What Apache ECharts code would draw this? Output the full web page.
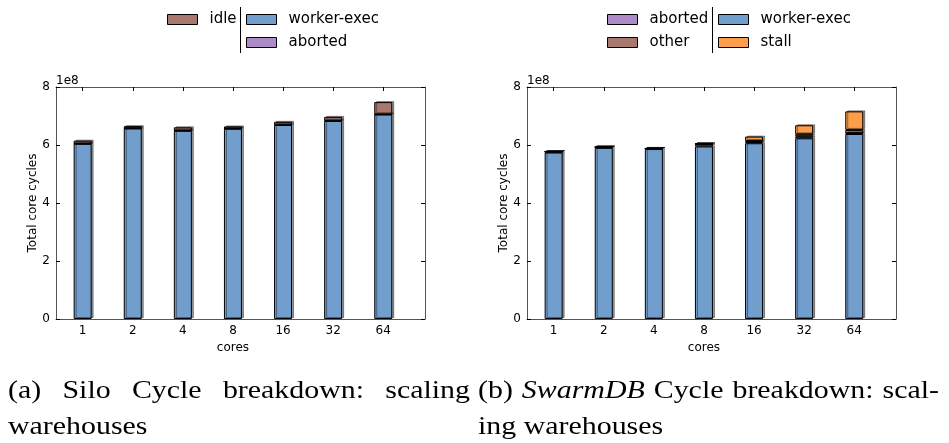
<!DOCTYPE html>
<html>
<head>
<meta charset="utf-8">
<title>Cycle breakdown: scaling warehouses</title>
<script src="https://cdn.jsdelivr.net/npm/echarts@6/dist/echarts.min.js"></script>
<style>
  html, body { margin: 0; padding: 0; background: #fff; }
  #chart { width: 949px; height: 443px; }
</style>
</head>
<body>
<div id="chart"></div>
<script>
// Core counts on the x axis
const cores = ['1', '2', '4', '8', '16', '32', '64'];

// y tick labels (units of 1e8 cycles)
const yTicks = [0, 2, 4, 6, 8];

// Silo: total core cycles per component, in units of 1e8
const siloWorkerExec = [6.04, 6.57, 6.49, 6.56, 6.69, 6.83, 7.05];
const siloAborted    = [0.01, 0.01, 0.01, 0.01, 0.01, 0.01, 0.01];
const siloIdle       = [0.10, 0.07, 0.11, 0.07, 0.10, 0.13, 0.42];

// SwarmDB: total core cycles per component, in units of 1e8
const swarmWorkerExec = [5.74, 5.90, 5.86, 5.95, 6.06, 6.23, 6.38];
const swarmOther      = [0.03, 0.03, 0.02, 0.08, 0.04, 0.07, 0.03];
const swarmAborted    = [0.00, 0.00, 0.00, 0.01, 0.04, 0.07, 0.11];
const swarmStall      = [0.00, 0.00, 0.00, 0.01, 0.15, 0.31, 0.64];

const COLORS = {
  'worker-exec': '#729ECE',
  'aborted': '#AD8BC9',
  'idle': '#A8786E',
  'other': '#A8786E',
  'stall': '#FF9E4A'
};

const SANS = '"DejaVu Sans", sans-serif';
const SERIF_FAMILY = '"Liberation Serif", serif';
const FRAME = '#555';

const chart = echarts.init(document.getElementById('chart'), null, { renderer: 'canvas' });

// Each panel: an outer frame grid (box, y ticks and labels) and an inner
// grid holding the category bands the bars sit in.
const panels = [
  { frameLeft: 56, barLeft: 57.6 },
  { frameLeft: 527, barLeft: 528.6 }
];
const TOP = 87, HEIGHT = 232, FRAME_W = 369, BAR_W = 350.7;

const grids = [], xAxes = [], yAxes = [];
const barAxis = [];

panels.forEach((p, k) => {
  const frameGrid = grids.length;
  grids.push({ left: p.frameLeft, top: TOP, width: FRAME_W, height: HEIGHT });
  const barGrid = grids.length;
  grids.push({ left: p.barLeft, top: TOP, width: BAR_W, height: HEIGHT });

  const line = { show: true, onZero: false, lineStyle: { color: FRAME, width: 1 } };

  // frame: bottom and top edges
  xAxes.push({ type: 'value', gridIndex: frameGrid, position: 'bottom', min: 0, max: 1,
    axisLine: line, axisTick: { show: false }, axisLabel: { show: false }, splitLine: { show: false } });
  xAxes.push({ type: 'value', gridIndex: frameGrid, position: 'top', min: 0, max: 1,
    axisLine: line, axisTick: { show: false }, axisLabel: { show: false }, splitLine: { show: false } });

  // frame: left (labelled) and right edges
  const yCommon = { type: 'value', gridIndex: frameGrid, min: 0, max: 8, interval: 2,
    axisLine: line, splitLine: { show: false },
    axisTick: { show: true, inside: true, length: 4, lineStyle: { color: '#000' } } };
  yAxes.push(Object.assign({}, yCommon, {
    position: 'left',
    name: 'Total core cycles', nameLocation: 'middle', nameRotate: 90, nameGap: 16,
    nameTextStyle: { fontFamily: SANS, fontSize: 12, color: '#000' },
    axisLabel: { show: true, margin: 6, fontFamily: SANS, fontSize: 12, color: '#000',
      customValues: yTicks, formatter: v => String(v) }
  }));
  yAxes.push(Object.assign({}, yCommon, { position: 'right', axisLabel: { show: false } }));

  // bar bands: category axis with labels at the bottom, tick marks top and bottom
  const xi = xAxes.length;
  xAxes.push({ type: 'category', gridIndex: barGrid, position: 'bottom', data: cores,
    axisLine: { show: false },
    axisTick: { show: true, inside: true, length: 4, alignWithLabel: true, interval: 0, lineStyle: { color: '#000' } },
    axisLabel: { show: true, interval: 0, margin: 6, fontFamily: SANS, fontSize: 12, color: '#000' },
    name: 'cores', nameLocation: 'middle', nameGap: 23,
    nameTextStyle: { fontFamily: SANS, fontSize: 12, color: '#000' } });
  xAxes.push({ type: 'category', gridIndex: barGrid, position: 'top', data: cores,
    axisLine: { show: false },
    axisTick: { show: true, inside: true, length: 4, alignWithLabel: true, interval: 0, lineStyle: { color: '#000' } },
    axisLabel: { show: false } });
  const yi = yAxes.length;
  yAxes.push({ type: 'value', gridIndex: barGrid, min: 0, max: 8, show: false });
  barAxis.push({ x: xi, y: yi });
});

function barSeries(name, values, panel, stack) {
  return {
    type: 'bar',
    name,
    stack,
    xAxisIndex: barAxis[panel].x,
    yAxisIndex: barAxis[panel].y,
    barWidth: 18,
    data: values,
    itemStyle: {
      color: COLORS[name],
      borderColor: '#000',
      borderWidth: 1,
      shadowColor: 'rgba(0,0,0,0.4)',
      shadowOffsetX: 2,
      shadowOffsetY: -1,
      shadowBlur: 0
    },
    emphasis: { disabled: true },
    animation: false
  };
}

const legendBase = {
  orient: 'vertical',
  top: 12,
  padding: 0,
  itemWidth: 30,
  itemHeight: 10,
  itemGap: 8,
  itemTextGap: 5,
  icon: 'rect',
  selectedMode: false,
  textStyle: { fontFamily: SANS, fontSize: 15, color: '#000', lineHeight: 14, padding: [0, 0, 0, 7] },
  itemStyle: { borderColor: '#000', borderWidth: 1, shadowBlur: 0, shadowOffsetX: 0, shadowOffsetY: 0, shadowColor: 'transparent' }
};

// Caption text: serif, slightly widened; the first line of each caption is justified.
const CAP_SIZE = 26, CAP_STRETCH = 1.15;
const measureCtx = document.createElement('canvas').getContext('2d');
function wordWidth(t, italic) {
  measureCtx.font = (italic ? 'italic ' : '') + CAP_SIZE + 'px ' + SERIF_FAMILY;
  return measureCtx.measureText(t).width * CAP_STRETCH;
}
function wordEl(t, x, y, italic) {
  return {
    type: 'text', x, y, scaleX: CAP_STRETCH,
    style: { text: t, fontFamily: SERIF_FAMILY, fontSize: CAP_SIZE,
      fontStyle: italic ? 'italic' : 'normal', fill: '#000', align: 'left', verticalAlign: 'bottom' }
  };
}
function justifiedLine(words, x0, x1, y) {
  const widths = words.map(w => wordWidth(w.t, w.italic));
  const total = widths.reduce((a, b) => a + b, 0);
  const gap = (x1 - x0 - total) / (words.length - 1);
  let x = x0;
  return words.map((w, i) => { const el = wordEl(w.t, x, y, w.italic); x += widths[i] + gap; return el; });
}
function naturalLine(words, x0, y) {
  const space = wordWidth(' ', false);
  let x = x0;
  return words.map(w => { const el = wordEl(w.t, x, y, w.italic); x += wordWidth(w.t, w.italic) + space; return el; });
}

const option = {
  backgroundColor: '#fff',
  animation: false,
  grid: grids,
  xAxis: xAxes,
  yAxis: yAxes,
  legend: [
    Object.assign({}, legendBase, { left: 167, data: ['idle'] }),
    Object.assign({}, legendBase, { left: 246, data: ['worker-exec', 'aborted'] }),
    Object.assign({}, legendBase, { left: 607, data: ['aborted', 'other'] }),
    Object.assign({}, legendBase, { left: 718, data: ['worker-exec', 'stall'] })
  ],
  series: [
    // Silo
    barSeries('worker-exec', siloWorkerExec, 0, 'silo'),
    barSeries('aborted', siloAborted, 0, 'silo'),
    barSeries('idle', siloIdle, 0, 'silo'),
    // SwarmDB
    barSeries('worker-exec', swarmWorkerExec, 1, 'swarm'),
    barSeries('other', swarmOther, 1, 'swarm'),
    barSeries('aborted', swarmAborted, 1, 'swarm'),
    barSeries('stall', swarmStall, 1, 'swarm')
  ],
  graphic: [
    // column dividers inside the legends
    { type: 'line', shape: { x1: 240.5, y1: 7, x2: 240.5, y2: 53 }, style: { stroke: '#000', lineWidth: 1 } },
    { type: 'line', shape: { x1: 712.5, y1: 7, x2: 712.5, y2: 53 }, style: { stroke: '#000', lineWidth: 1 } },
    // axis offset labels
    { type: 'text', x: 56, y: 81, style: { text: '1e8', fontFamily: SANS, fontSize: 12, fill: '#000', verticalAlign: 'middle' } },
    { type: 'text', x: 527, y: 81, style: { text: '1e8', fontFamily: SANS, fontSize: 12, fill: '#000', verticalAlign: 'middle' } }
  ]
    .concat(justifiedLine([
      { t: '(a)' }, { t: 'Silo' }, { t: 'Cycle' }, { t: 'breakdown:' }, { t: 'scaling' }
    ], 8, 470, 404))
    .concat(naturalLine([{ t: 'warehouses' }], 8, 440))
    .concat(justifiedLine([
      { t: '(b)' }, { t: 'SwarmDB', italic: true }, { t: 'Cycle' }, { t: 'breakdown:' }, { t: 'scal-' }
    ], 478, 939, 404))
    .concat(naturalLine([{ t: 'ing' }, { t: 'warehouses' }], 478, 440))
};

chart.setOption(option);
</script>
</body>
</html>
